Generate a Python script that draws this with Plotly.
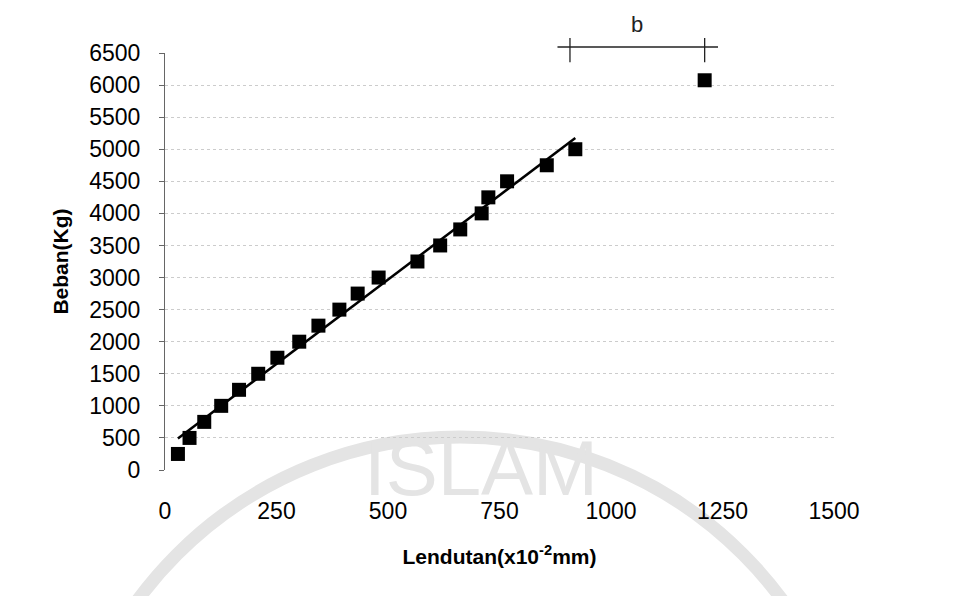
import numpy as np
import plotly.graph_objects as go

# Data
deflection = [29, 55, 88, 126, 166, 209, 252, 301, 344, 391, 432, 479,
              566, 617, 662, 710, 725, 767, 856, 920, 1210]          # x10^-2 mm
load = [250, 500, 750, 1000, 1250, 1500, 1750, 2000, 2250, 2500, 2750, 3000,
        3250, 3500, 3750, 4000, 4250, 4500, 4750, 5000, 6075]        # kg
n_linear = 20                                   # points used for the linear trend
x_ticks = [0, 250, 500, 750, 1000, 1250, 1500]
y_ticks = list(range(0, 6501, 500))

# linear trend over the elastic range
fx = np.array(deflection[:n_linear], dtype=float)
fy = np.array(load[:n_linear], dtype=float)
slope, intercept = np.polyfit(fx, fy, 1)
trend_x = [fx.min(), fx.max()]
trend_y = [slope * v + intercept for v in trend_x]

FONT = "Liberation Sans, Arial, sans-serif"
WM = "#e4e4e4"

fig = go.Figure()
fig.add_trace(go.Scatter(x=trend_x, y=trend_y, mode="lines",
                         line=dict(color="black", width=2.5),
                         hoverinfo="skip", showlegend=False))
fig.add_trace(go.Scatter(x=deflection, y=load, mode="markers",
                         marker=dict(symbol="square", size=14, color="black",
                                     line=dict(width=0)),
                         showlegend=False))

shapes = [
    # watermark arc
    dict(type="circle", xref="paper", yref="paper", x0=-0.157, x1=1.039,
         y0=0.079, y1=-1.840, line=dict(color=WM, width=13), layer="below"),
    # "b" bracket
    dict(type="line", xref="x", yref="paper", x0=880, x1=1240, y0=1.0144, y1=1.0144,
         line=dict(color="#222", width=1.3)),
    dict(type="line", xref="x", yref="paper", x0=908, x1=908, y0=0.978, y1=1.036,
         line=dict(color="#222", width=1.3)),
    dict(type="line", xref="x", yref="paper", x0=1210, x1=1210, y0=0.978, y1=1.036,
         line=dict(color="#222", width=1.3)),
]

annotations = [
    dict(text="ISLAM", xref="paper", yref="paper", x=0.472, y=0.005,
         showarrow=False, font=dict(family=FONT, size=78, color=WM),
         xanchor="center", yanchor="middle"),
    dict(text="b", xref="x", yref="paper", x=1059, y=1.0695, showarrow=False,
         font=dict(family=FONT, size=22, color="#222"),
         xanchor="center", yanchor="middle"),
]

fig.update_layout(
    width=948, height=588,
    margin=dict(l=157, r=122, t=45, b=126),
    paper_bgcolor="white", plot_bgcolor="white",
    font=dict(family=FONT, color="black"),
    shapes=shapes, annotations=annotations,
    xaxis=dict(range=[0, 1500], tickvals=x_ticks, ticktext=[str(v) for v in x_ticks],
               showgrid=False, zeroline=False, showline=False, ticks="",
               tickfont=dict(size=23, color="black"), ticklabelstandoff=25,
               title=dict(text="<b>Lendutan(x10<sup>-2</sup>mm)</b>",
                          font=dict(size=21, color="black"), standoff=26)),
    yaxis=dict(range=[0, 6500], tickvals=y_ticks, ticktext=[str(v) for v in y_ticks],
               showgrid=True, gridcolor="#cccccc", griddash="dot", gridwidth=1,
               zeroline=False, showline=True, linecolor="#666", linewidth=1,
               ticks="outside", ticklen=5, tickcolor="#666",
               tickfont=dict(size=23, color="black"), ticklabelstandoff=14,
               title=dict(text="<b>Beban(Kg)</b>", font=dict(size=21, color="black"),
                          standoff=14)),
)

fig.write_html("out.html")
